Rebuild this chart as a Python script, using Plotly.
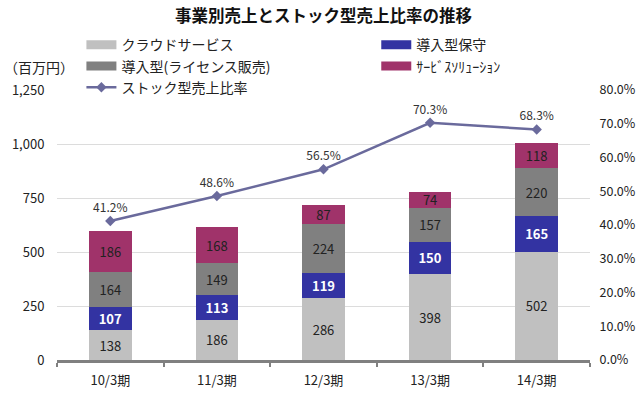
import plotly.graph_objects as go

categories = ["10/3期", "11/3期", "12/3期", "13/3期", "14/3期"]
cloud = [138, 186, 286, 398, 502]
hoshu = [107, 113, 119, 150, 165]
license_sales = [164, 149, 224, 157, 220]
solution = [186, 168, 87, 74, 118]
stock_ratio = [0.412, 0.486, 0.565, 0.703, 0.683]

left_ticks = [0, 250, 500, 750, 1000, 1250]
right_ticks = [0, 0.1, 0.2, 0.3, 0.4, 0.5, 0.6, 0.7, 0.8]

FONT = "Noto Sans CJK JP"

fig = go.Figure()

def bar(name, vals, color, tcolor, legend, bold=False):
    fig.add_trace(go.Bar(
        name=name, x=categories, y=vals, marker=dict(color=color, line=dict(width=0)),
        text=[f"<b>{v}</b>" if bold else str(v) for v in vals],
        textposition="inside", insidetextanchor="middle", textangle=0,
        constraintext="none", showlegend=False,
        textfont=dict(color=tcolor, size=13, family=FONT),
    ))
    # legend-only entry with a wide rectangular key
    fig.add_trace(go.Scatter(
        name=name, x=[None], y=[None], mode="lines", legend=legend,
        line=dict(color=color, width=9), hoverinfo="skip",
    ))

bar("クラウドサービス", cloud, "#C0C0C0", "#222222", "legend")
bar("導入型保守", hoshu, "#3333A2", "#FFFFFF", "legend2", bold=True)
bar("導入型(ライセンス販売)", license_sales, "#808080", "#222222", "legend")
bar("ｻｰﾋﾞｽｿﾘｭｰｼｮﾝ", solution, "#A0336A", "#222222", "legend2")

fig.add_trace(go.Scatter(
    name="ストック型売上比率", x=categories, y=stock_ratio, yaxis="y2",
    mode="lines+markers+text", legend="legend",
    line=dict(color="#6A6A9C", width=2.5),
    marker=dict(symbol="diamond", size=8, color="#6A6A9C"),
    text=[f"{v*100:.1f}%" for v in stock_ratio],
    textposition="top center",
    textfont=dict(size=12, color="#333333", family=FONT),
))

leg_common = dict(orientation="v", yanchor="top", traceorder="normal",
                  font=dict(size=14, color="#222222", family=FONT),
                  bgcolor="rgba(0,0,0,0)", itemwidth=30)

fig.update_layout(
    width=642, height=393,
    margin=dict(l=57, r=52, t=90, b=33),
    paper_bgcolor="white", plot_bgcolor="white",
    font=dict(family=FONT, color="#333333"),
    barmode="stack", bargap=0.6,
    title=dict(text="<b>事業別売上とストック型売上比率の推移</b>", x=0.5, xanchor="center",
               xref="paper", yref="container", y=1 - 16 / 393, yanchor="middle",
               font=dict(size=16.5, color="#111111", family=FONT)),
    showlegend=True,
    legend=dict(x=0.0458, xanchor="left", y=1.225, **leg_common),
    legend2=dict(x=0.599, xanchor="left", y=1.225, **leg_common),
    xaxis=dict(showline=True, linecolor="#808080", linewidth=3, ticks="outside",
               tickson="boundaries", ticklen=4, tickcolor="#808080", tickwidth=2,
               ticklabelstandoff=6, automargin=False,
               tickfont=dict(size=13, color="#222222"), showgrid=False),
    yaxis=dict(range=[0, 1250], tickvals=left_ticks, automargin=False,
               ticktext=[f"{v:,}" for v in left_ticks],
               showgrid=True, gridcolor="#DCDCDC", gridwidth=1, zeroline=False,
               tickfont=dict(size=13, color="#222222"), ticklen=9, ticks="outside",
               tickcolor="rgba(0,0,0,0)"),
    yaxis2=dict(range=[0, 0.8], tickvals=right_ticks, tickformat=".1%", automargin=False,
                overlaying="y", side="right", showgrid=False, zeroline=False,
                tickfont=dict(size=12.5, color="#222222"), ticks="outside", ticklen=6,
                tickcolor="rgba(0,0,0,0)"),
    annotations=[dict(text="（百万円）", xref="paper", yref="paper", x=-0.104, y=1.085,
                      xanchor="left", yanchor="middle", showarrow=False,
                      font=dict(size=14, color="#222222", family=FONT))],
)

fig.write_html("out.html", config={"displayModeBar": False},
               post_script="document.body.style.margin='0';")
